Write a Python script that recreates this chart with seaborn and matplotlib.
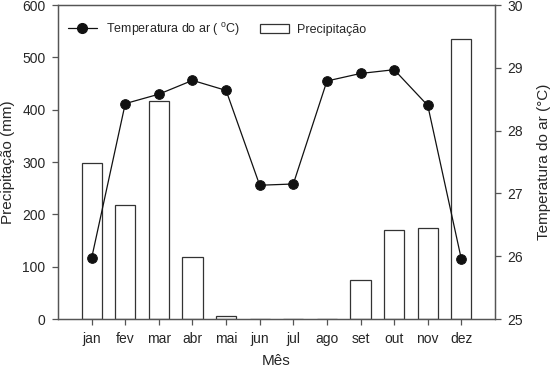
import pandas as pd
import seaborn as sns
import numpy as np
import matplotlib.pyplot as plt
from matplotlib.lines import Line2D
from matplotlib.patches import Patch

meses = ["jan", "fev", "mar", "abr", "mai", "jun", "jul", "ago", "set", "out", "nov", "dez"]
precipitacao = [298, 218, 416, 119, 6, 0, 0, 0, 75, 171, 174, 536]
temperatura = [25.97, 28.43, 28.58, 28.80, 28.64, 27.13, 27.15, 28.79, 28.91, 28.97, 28.40, 25.95]

df = pd.DataFrame({"mes": meses, "prec": precipitacao, "temp": temperatura})

sns.set_style("ticks")
plt.rcParams["font.family"] = ["Liberation Sans", "DejaVu Sans"]
cinza = "#555555"

fig, ax = plt.subplots(figsize=(5.5, 3.69), dpi=100)
fig.subplots_adjust(left=0.1055, right=0.9, top=0.9864, bottom=0.1355)

sns.barplot(data=df, x="mes", y="prec", order=meses, ax=ax, width=0.6,
            color="white", edgecolor="#333333", linewidth=0.9)
ax.set_ylim(0, 600)
ax.set_xlim(-1, 12)
ax.set_yticks([0, 100, 200, 300, 400, 500, 600])
ax.set_ylabel("Precipitação (mm)", fontsize=11, labelpad=5)
ax.set_xlabel("Mês", fontsize=11, labelpad=6)

ax2 = ax.twinx()
sns.pointplot(data=df, x="mes", y="temp", order=meses, ax=ax2, color="#111111",
              markers="o", markersize=7, linewidth=0.9)
ax2.set_xlim(-1, 12)
ax2.set_ylim(25, 30)
ax2.set_yticks([25, 26, 27, 28, 29, 30])
ax2.set_ylabel("Temperatura do ar (°C)", fontsize=11, labelpad=10)

for a in (ax, ax2):
    for s in a.spines.values():
        s.set_color(cinza)
        s.set_linewidth(0.9)
        s.set_visible(True)
    a.tick_params(labelsize=10, color=cinza, length=4, width=0.9, pad=5)

handles = [
    Line2D([], [], color="#111111", marker="o", markersize=7, linewidth=0.9),
    Patch(facecolor="white", edgecolor="#333333", linewidth=0.9),
]
labels = ["Temperatura do ar ( $^\\mathregular{o}$C)", "Precipitação"]
ax2.legend(handles, labels, loc="upper left", ncol=2, frameon=False, fontsize=9,
           bbox_to_anchor=(0.023, 0.95), borderaxespad=0, borderpad=0,
           columnspacing=1.6, handlelength=2.3, handletextpad=0.7)

fig.savefig("out.png", dpi=100)
